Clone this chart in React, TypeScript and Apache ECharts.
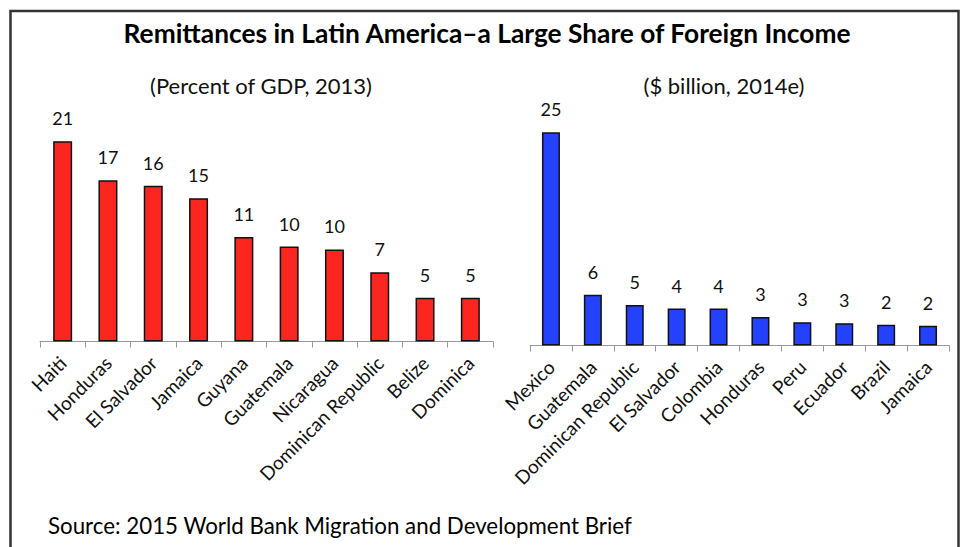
import React, { useEffect, useRef } from "react";
import * as echarts from "echarts";

const titleText = "Remittances in Latin America\u2013a Large Share of Foreign Income";
const leftSubtitle = "(Percent of GDP, 2013)";
const rightSubtitle = "($ billion, 2014e)";
const sourceText = "Source: 2015 World Bank Migration and Development Brief";

const gdpCountries = ["Haiti", "Honduras", "El Salvador", "Jamaica", "Guyana", "Guatemala", "Nicaragua", "Dominican Republic", "Belize", "Dominica"];
const gdpShare = [21.1, 17.0, 16.4, 15.1, 11.0, 10.0, 9.7, 7.3, 4.6, 4.6];

const usdCountries = ["Mexico", "Guatemala", "Dominican Republic", "El Salvador", "Colombia", "Honduras", "Peru", "Ecuador", "Brazil", "Jamaica"];
const usdBillions = [24.8, 5.9, 4.7, 4.3, 4.3, 3.3, 2.7, 2.6, 2.4, 2.3];

const FONT = "Lato, 'Open Sans', sans-serif";

export default function App() {
  const ref = useRef<HTMLDivElement>(null);
  useEffect(() => {
    if (!ref.current) return;
    const chart = echarts.init(ref.current, undefined, { renderer: "svg" });
    const catAxis = (idx: number, data: string[]) => ({
      type: "category",
      gridIndex: idx,
      data,
      axisLine: { lineStyle: { color: "#999", width: 1 } },
      axisTick: { show: true, length: 6, lineStyle: { color: "#999" } },
      axisLabel: {
        rotate: 45,
        interval: 0,
        margin: 18,
        fontSize: 19,
        fontFamily: FONT,
        color: "#111",
      },
    });
    const valAxis = (idx: number, max: number) => ({
      type: "value",
      gridIndex: idx,
      min: 0,
      max,
      show: false,
      splitLine: { show: false },
    });
    const barLabel = {
      show: true,
      position: "top",
      distance: 14,
      fontSize: 18,
      fontFamily: FONT,
      color: "#111",
      formatter: (p: any) => String(Math.round(p.value)),
    };
    chart.setOption({
      animation: false,
      backgroundColor: "#fff",
      grid: [
        { left: 40, right: 468, top: 132.7, bottom: 205.5 },
        { left: 530, right: 12, top: 121.9, bottom: 201.5 },
      ],
      xAxis: [catAxis(0, gdpCountries), catAxis(1, usdCountries)],
      yAxis: [valAxis(0, 22), valAxis(1, 26)],
      series: [
        {
          type: "bar",
          xAxisIndex: 0,
          yAxisIndex: 0,
          data: gdpShare,
          barWidth: 19,
          itemStyle: { color: "#FB2620", borderColor: "#111", borderWidth: 1.5 },
          label: barLabel,
        },
        {
          type: "bar",
          xAxisIndex: 1,
          yAxisIndex: 1,
          data: usdBillions,
          barWidth: 18,
          itemStyle: { color: "#2442FB", borderColor: "#111", borderWidth: 1.5 },
          label: barLabel,
        },
      ],
      graphic: [
        {
          type: "rect",
          shape: { x: 10.5, y: 11, width: 948, height: 600 },
          style: { fill: "none", stroke: "#333", lineWidth: 2.5 },
          silent: true,
        },
        {
          type: "text",
          x: 487,
          y: 33,
          style: {
            text: titleText,
            fontSize: 26.3,
            fontWeight: "bold",
            fontFamily: FONT,
            fill: "#000",
            textAlign: "center",
            textVerticalAlign: "middle",
          },
        },
        {
          type: "text",
          x: 261,
          y: 85,
          style: {
            text: leftSubtitle,
            fontSize: 22,
            fontFamily: FONT,
            fill: "#111",
            textAlign: "center",
            textVerticalAlign: "middle",
          },
        },
        {
          type: "text",
          x: 724,
          y: 85,
          style: {
            text: rightSubtitle,
            fontSize: 22,
            fontFamily: FONT,
            fill: "#111",
            textAlign: "center",
            textVerticalAlign: "middle",
          },
        },
        {
          type: "text",
          x: 48,
          y: 525,
          style: {
            text: sourceText,
            fontSize: 22.3,
            fontFamily: FONT,
            fill: "#000",
            textAlign: "left",
            textVerticalAlign: "middle",
          },
        },
      ],
    });
    return () => chart.dispose();
  }, []);
  return (
    <div
      ref={ref}
      style={{ position: "fixed", left: 0, top: 0, width: 961, height: 547 }}
    />
  );
}
